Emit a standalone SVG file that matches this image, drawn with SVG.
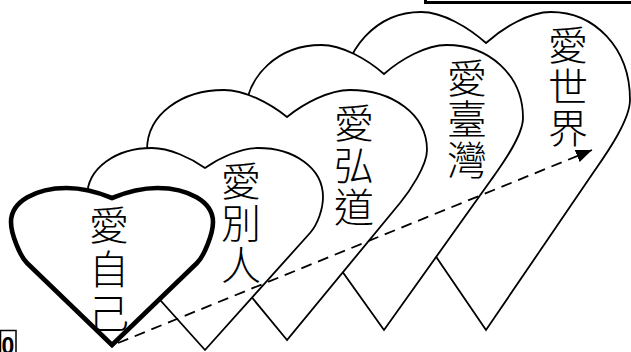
<svg xmlns="http://www.w3.org/2000/svg" width="631" height="352" viewBox="0 0 631 352">
<style>
.heart{fill:#fff;stroke:#000;stroke-width:1.8;stroke-linejoin:miter}
.bold{stroke-width:4.6}
.lbl{font-family:"Noto Sans CJK TC","Noto Sans CJK SC",sans-serif;font-size:40px;font-weight:300;fill:#000;writing-mode:vertical-rl;text-anchor:start}
.conn{fill:none;stroke:#000;stroke-width:1.8;stroke-dasharray:11 7}
.frame{fill:none;stroke:#000}
</style>
<defs>
<marker id="ah" markerUnits="userSpaceOnUse" markerWidth="18" markerHeight="14" refX="16" refY="6.5" orient="auto">
<path d="M0,0 L16,6.5 L0,13 Z" fill="#000"/>
</marker>
</defs>
<rect width="631" height="352" fill="#fff"/>
<g id="frame-top"><path class="frame" d="M425.5,0 V2.5 H631" stroke-width="3"/></g>
<g id="frame-bottom">
<rect class="frame" x="0.5" y="330.5" width="15.5" height="30" stroke-width="1.5"/>
<text x="1.5" y="354" font-family="Liberation Sans, Arial, sans-serif" font-weight="bold" font-size="23">0</text>
</g>
<g id="heart5">
<path class="heart" d="M486,330 L379,173 C370.4,160.4 342,121.9 342,100 C342,47.2 378,12 421.2,12 C442.8,12 468.7,27.5 486,43 C503.3,27.5 529.2,12 550.8,12 C594,12 630,47.2 630,100 C630,121.9 601.6,160.4 593,173 Z"/>
<text class="lbl" x="568" y="25" letter-spacing="1.5">愛世界</text>
</g>
<g id="heart4">
<path class="heart" d="M384,330 L277,180 C268.4,168 245,136.6 245,118 C245,74.2 279.7,45 321.4,45 C342.3,45 367.3,59.5 384,74 C400.7,59.5 425.7,45 446.6,45 C488.3,45 523,74.2 523,118 C523,136.6 499.6,168 491,180 Z"/>
<text class="lbl" x="467" y="58" letter-spacing="1">愛臺灣</text>
</g>
<g id="heart3">
<path class="heart" d="M287,340 L174,203 C165,192 147,165.9 147,150 C147,114 182,90 224,90 C245,90 270.2,103.5 287,117 C303.8,103.5 329,90 350,90 C392,90 427,114 427,150 C427,165.9 409,192 400,203 Z"/>
<text class="lbl" x="354" y="103" letter-spacing="2">愛弘道</text>
</g>
<g id="heart2">
<path class="heart" d="M205,350 L100,233 C91.6,223.6 87,207.8 87,197 C87,167.6 116.5,148 151.9,148 C169.6,148 190.8,158 205,168 C219.2,158 240.4,148 258.1,148 C293.5,148 323,167.6 323,197 C323,207.8 318.4,223.6 310,233 Z"/>
<text class="lbl" x="241" y="161" letter-spacing="2">愛別人</text>
</g>
<g id="heart1">
<path class="heart bold" d="M112,345 L27,263 C20.2,256.4 11,234.3 11,222 C11,201.6 36.2,188 66.5,188 C81.7,188 99.9,193 112,198 C124.1,193 142.3,188 157.5,188 C187.8,188 213,201.6 213,222 C213,234.3 203.8,256.4 197,263 Z"/>
<text class="lbl" x="109" y="205" letter-spacing="4">愛自己</text>
</g>
<g id="connectors">
<path class="conn" d="M118,343 L592,150" marker-end="url(#ah)"/>
</g>
</svg>
